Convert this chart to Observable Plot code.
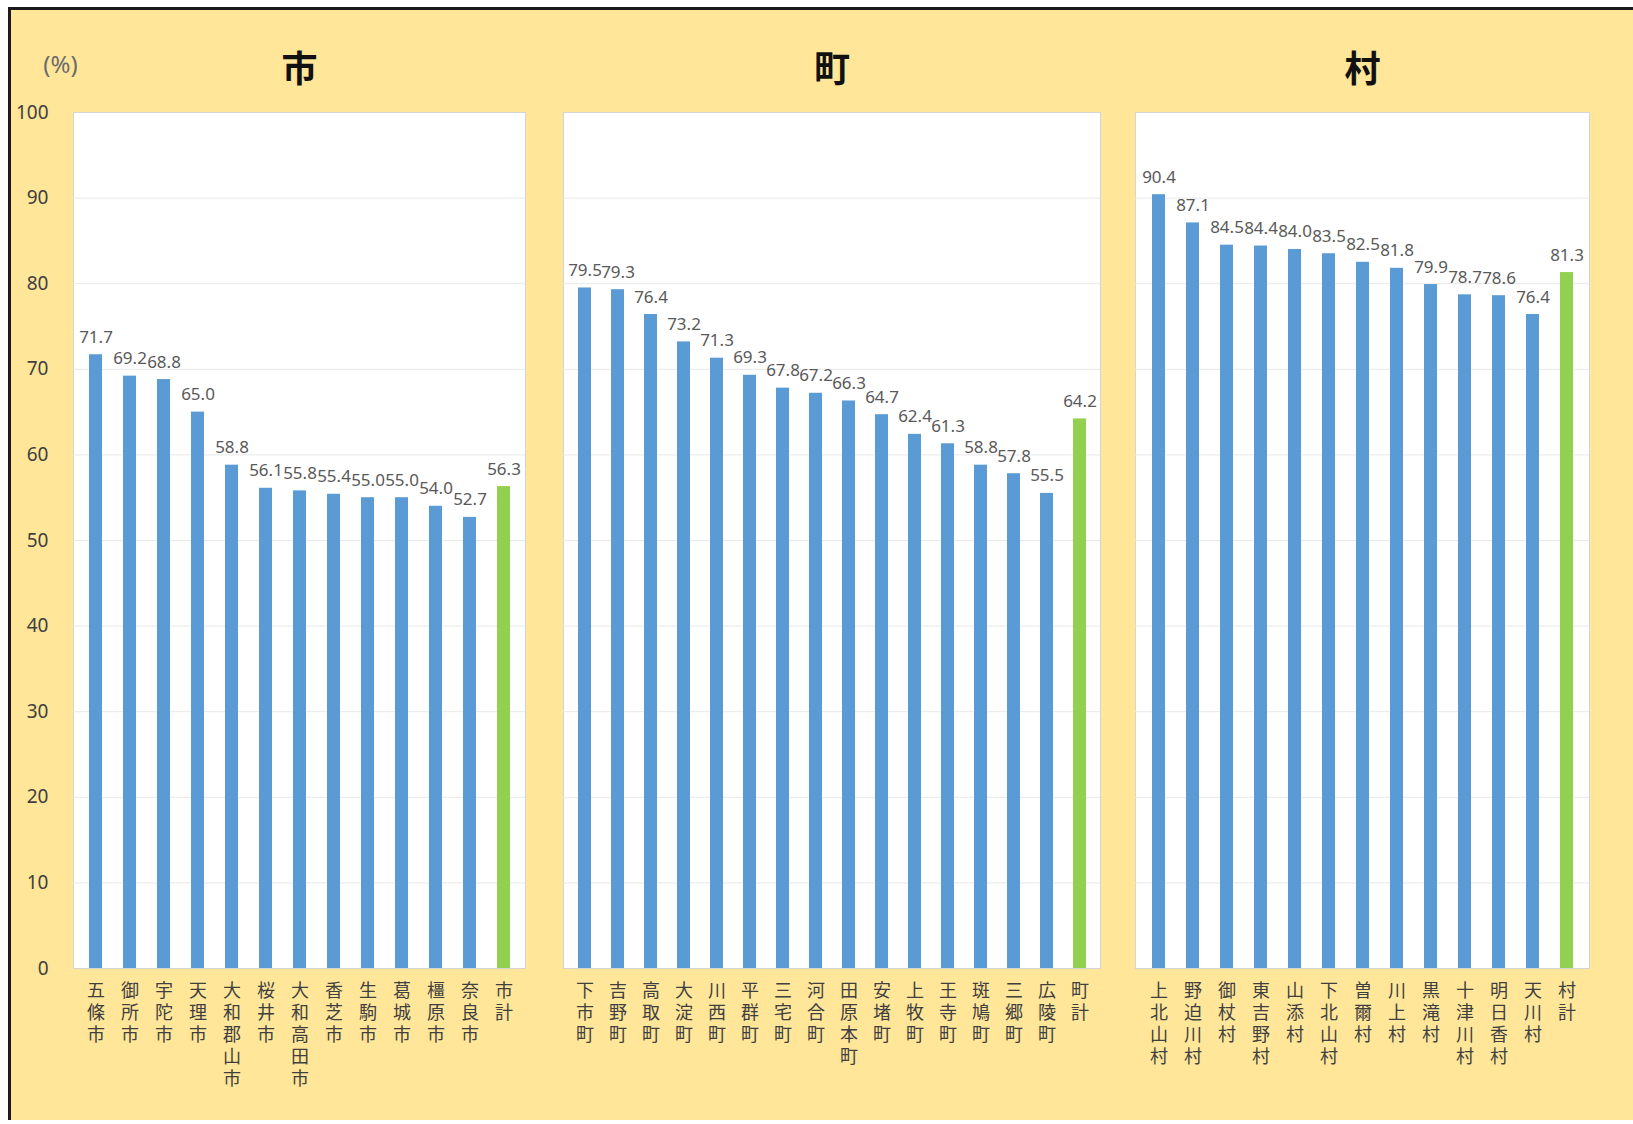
<!DOCTYPE html>
<html>
<head>
<meta charset="utf-8">
<script src="https://cdn.jsdelivr.net/npm/d3@7"></script>
<script src="https://cdn.jsdelivr.net/npm/@observablehq/plot@0.6"></script>
<style>
html, body { margin: 0; padding: 0; background: #ffffff; }
#wrap { position: relative; width: 1633px; height: 1124px; overflow: hidden; }
#bg { position: absolute; left: 8px; top: 7px; right: 0; bottom: 4px; background: #FFE699;
      border-left: 3px solid #1b1b1b; border-top: 3px solid #1b1b1b; }
.panel { position: absolute; top: 0; }
</style>
</head>
<body>
<div id="wrap"><div id="bg"></div></div>
<script>
// ---- data ----
const panelTitles = ["市", "町", "村"];
const unitLabel = "(%)";
const yTicks = [0, 10, 20, 30, 40, 50, 60, 70, 80, 90, 100];

const cityNames = ["五條市", "御所市", "宇陀市", "天理市", "大和郡山市", "桜井市", "大和高田市", "香芝市", "生駒市", "葛城市", "橿原市", "奈良市", "市計"];
const cityValues = [71.7, 69.2, 68.8, 65.0, 58.8, 56.1, 55.8, 55.4, 55.0, 55.0, 54.0, 52.7, 56.3];

const townNames = ["下市町", "吉野町", "高取町", "大淀町", "川西町", "平群町", "三宅町", "河合町", "田原本町", "安堵町", "上牧町", "王寺町", "斑鳩町", "三郷町", "広陵町", "町計"];
const townValues = [79.5, 79.3, 76.4, 73.2, 71.3, 69.3, 67.8, 67.2, 66.3, 64.7, 62.4, 61.3, 58.8, 57.8, 55.5, 64.2];

const villageNames = ["上北山村", "野迫川村", "御杖村", "東吉野村", "山添村", "下北山村", "曽爾村", "川上村", "黒滝村", "十津川村", "明日香村", "天川村", "村計"];
const villageValues = [90.4, 87.1, 84.5, 84.4, 84.0, 83.5, 82.5, 81.8, 79.9, 78.7, 78.6, 76.4, 81.3];

// ---- drawing ----
const BLUE = "#5B9BD5";
const GREEN = "#92D050";
const H = 1124, MT = 112, MB = 156;

function panel(names, values, title, left, plotWidth, showY) {
  const rows = names.map((name, i) => ({name, value: values[i], total: i === names.length - 1}));
  const marginLeft = showY ? 73 : 0;
  const marks = [
    Plot.frame({fill: "white", stroke: "#d4d4d4"}),
    Plot.gridY(yTicks.slice(1, -1), {stroke: "#e8e8e8", strokeOpacity: 1}),
    Plot.barY(rows, {x: "name", y: "value", fill: "total"}),
    Plot.text(rows, {x: "name", y: "value", text: d => d.value.toFixed(1), lineAnchor: "bottom", dy: -12,
                     fontSize: 17, fill: "#595959", fontFamily: "'Noto Sans', sans-serif"}),
    Plot.axisX({tickSize: 0, tickPadding: 13, fontSize: 18, lineHeight: 1.22, label: null,
                tickFormat: d => [...d].join("\n"), color: "#404040"}),
    Plot.text([title], {frameAnchor: "top", dy: -56, text: d => d, fontSize: 36, fontWeight: "bold", fill: "#111"})
  ];
  if (showY) {
    marks.push(Plot.axisY(yTicks, {tickSize: 0, tickPadding: 25, fontSize: 19, label: null, color: "#404040",
                                   fontFamily: "'Noto Sans', sans-serif"}));
    marks.push(Plot.text([unitLabel], {frameAnchor: "top-left", dx: -13, dy: -57, text: d => d, fontSize: 24,
                                      fill: "#6b6b6b", textAnchor: "middle", fontFamily: "'Noto Sans', sans-serif"}));
  }
  const chart = Plot.plot({
    width: marginLeft + plotWidth,
    height: H,
    marginLeft, marginRight: 0, marginTop: MT, marginBottom: MB,
    style: {background: "transparent", overflow: "visible", maxWidth: "none",
            fontFamily: "'Noto Sans CJK JP', 'Noto Sans', sans-serif"},
    x: {domain: names, paddingInner: 0.62, paddingOuter: 0.31},
    y: {domain: [0, 100], axis: showY ? undefined : null},
    color: {domain: [false, true], range: [BLUE, GREEN]},
    marks
  });
  chart.classList.add("panel");
  chart.style.left = (left - marginLeft) + "px";
  chart.style.position = "absolute";
  chart.style.top = "0px";
  document.getElementById("wrap").appendChild(chart);
}

panel(cityNames, cityValues, panelTitles[0], 73, 452, true);
panel(townNames, townValues, panelTitles[1], 563, 537, false);
panel(villageNames, villageValues, panelTitles[2], 1135, 454, false);
</script>
</body>
</html>
